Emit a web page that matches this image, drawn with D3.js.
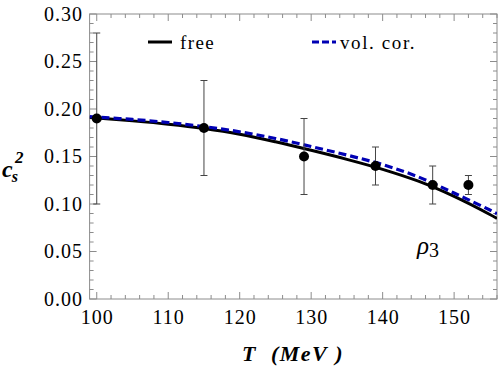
<!DOCTYPE html>
<html><head><meta charset="utf-8">
<script src="https://cdn.jsdelivr.net/npm/d3@7"></script>
</head><body style="margin:0">
<svg id="c" width="498" height="370"></svg>
<script>
const curveT    = [99, 100, 105, 110, 115, 120, 125, 130, 135, 140, 145, 150, 155, 156];
const freeCs2   = [0.1911, 0.1905, 0.1875, 0.184, 0.1795, 0.1735, 0.1655, 0.1565, 0.147, 0.1365, 0.124, 0.108, 0.089, 0.0848];
const volCs2    = [0.1920, 0.1915, 0.189, 0.1858, 0.1815, 0.176, 0.169, 0.1605, 0.1515, 0.1415, 0.1285, 0.1115, 0.0937, 0.0897];
const dataT     = [100, 115, 129, 139, 147, 152];
const dataCs2   = [0.19, 0.18, 0.15, 0.14, 0.12, 0.12];
const dataLow   = [0.10, 0.13, 0.11, 0.12, 0.10, 0.11];
const dataHigh  = [0.28, 0.23, 0.19, 0.16, 0.14, 0.13];
const xTicks    = [100, 110, 120, 130, 140, 150];
const yTicks    = [0.00, 0.05, 0.10, 0.15, 0.20, 0.25, 0.30];
const legendLabels = ["free", "vol. cor."];

const fontName = ["Liberation", "Serif"].join(" ");
const svg = d3.select("#c");
const L = 89.6, R = 497, T = 14, B = 299;
const x = d3.scaleLinear().domain([99, 156]).range([L, R]);
const y = d3.scaleLinear().domain([0, 0.30]).range([B, T]);
const frameCol = "#8c8c8c";
function txt(sel) { return sel.style("font-family", () => "'" + fontName + "'"); }

svg.append("rect").attr("x", L).attr("y", T).attr("width", R - L).attr("height", B - T)
  .attr("fill", "none").attr("stroke", frameCol).attr("stroke-width", 1);

const g = svg.append("g").attr("stroke", frameCol).attr("stroke-width", 1);
for (let v = 100; v <= 156; v += 2) {
  const major = (v % 10 === 0);
  const len = major ? 7 : 4;
  g.append("line").attr("x1", x(v)).attr("x2", x(v)).attr("y1", B).attr("y2", B - len);
  g.append("line").attr("x1", x(v)).attr("x2", x(v)).attr("y1", T).attr("y2", T + len);
}
for (let i = 0; i <= 30; i++) {
  const v = i / 100;
  const major = (i % 5 === 0);
  const len = major ? 7 : 4;
  g.append("line").attr("y1", y(v)).attr("y2", y(v)).attr("x1", L).attr("x2", L + len);
  g.append("line").attr("y1", y(v)).attr("y2", y(v)).attr("x1", R).attr("x2", R - len);
}

txt(svg.selectAll(".xl").data(xTicks).enter().append("text").attr("class", "lbl"))
  .attr("x", d => x(d) + 0.5).attr("y", 324).attr("text-anchor", "middle")
  .attr("font-size", 20).attr("letter-spacing", 1)
  .text(d => d);
txt(svg.selectAll(".yl").data(yTicks).enter().append("text").attr("class", "lbl"))
  .attr("x", 83).attr("y", d => y(d) + 6.5).attr("text-anchor", "end")
  .attr("font-size", 20).attr("letter-spacing", 1)
  .text(d => d.toFixed(2));

txt(svg.append("text").attr("class", "lbl")).attr("x", 293).attr("y", 361).attr("text-anchor", "middle")
  .attr("font-size", 22).attr("font-weight", "bold").attr("font-style", "italic")
  .attr("letter-spacing", 1.5)
  .text("T\u00a0\u00a0(MeV\u00a0)");
const yl = txt(svg.append("text").attr("class", "lbl")).attr("x", 2).attr("y", 177)
  .attr("font-size", 24).attr("font-weight", "bold").attr("font-style", "italic");
yl.append("tspan").text("c");
yl.append("tspan").attr("font-size", 16).attr("dx", -1).attr("dy", 5).text("s");
yl.append("tspan").attr("font-size", 17).attr("dx", -3).attr("dy", -19).text("2");

svg.append("clipPath").attr("id", "clip").append("rect")
  .attr("x", L).attr("y", T).attr("width", R - L).attr("height", B - T);
const plot = svg.append("g").attr("clip-path", "url(#clip)");

const line = d3.line().x(d => x(d[0])).y(d => y(d[1])).curve(d3.curveCatmullRom);
plot.append("path").datum(curveT.map((t, i) => [t, freeCs2[i]]))
  .attr("d", line).attr("fill", "none").attr("stroke", "#000").attr("stroke-width", 3);
plot.append("path").datum(curveT.map((t, i) => [t, volCs2[i]]))
  .attr("d", line).attr("fill", "none").attr("stroke", "#0000b4").attr("stroke-width", 3.2)
  .attr("stroke-dasharray", "8,4");

const eb = plot.append("g").attr("stroke", "#444").attr("stroke-width", 1);
dataT.forEach((t, i) => {
  eb.append("line").attr("x1", x(t)).attr("x2", x(t)).attr("y1", y(dataLow[i])).attr("y2", y(dataHigh[i]));
  [dataLow[i], dataHigh[i]].forEach(v => {
    eb.append("line").attr("x1", x(t) - 3.5).attr("x2", x(t) + 3.5).attr("y1", y(v)).attr("y2", y(v));
  });
});
plot.selectAll(".pt").data(dataT).enter().append("circle")
  .attr("cx", d => x(d)).attr("cy", (d, i) => y(dataCs2[i])).attr("r", 5).attr("fill", "#000");

svg.append("line").attr("x1", 148).attr("x2", 172).attr("y1", 42).attr("y2", 42)
  .attr("stroke", "#000").attr("stroke-width", 3);
txt(svg.append("text").attr("class", "lbl")).attr("x", 180).attr("y", 49).attr("font-size", 19)
  .attr("letter-spacing", 1.4).text(legendLabels[0]);
svg.append("line").attr("x1", 312).attr("x2", 336).attr("y1", 42).attr("y2", 42)
  .attr("stroke", "#0000b4").attr("stroke-width", 3).attr("stroke-dasharray", "7,3");
txt(svg.append("text").attr("class", "lbl")).attr("x", 340).attr("y", 49).attr("font-size", 19)
  .attr("letter-spacing", 1.6).text(legendLabels[1]);

const rl = txt(svg.append("text").attr("class", "lbl")).attr("x", 417).attr("y", 254).attr("font-size", 25);
rl.append("tspan").attr("font-style", "italic").text("ρ");
rl.append("tspan").attr("font-size", 20).attr("dy", 3).text("3");

if (document.fonts && document.fonts.load) {
  document.fonts.load("20px '" + fontName + "'").then(() => {
    txt(svg.selectAll("text.lbl"));
  }).catch(() => {});
}
</script>
</body></html>
